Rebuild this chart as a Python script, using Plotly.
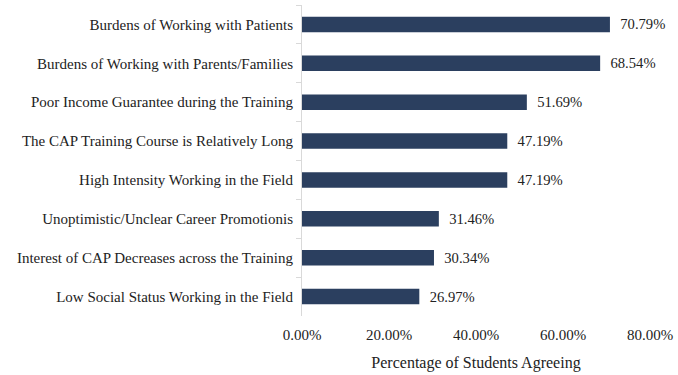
import plotly.graph_objects as go

categories = [
    "Burdens of Working with Patients",
    "Burdens of Working with Parents/Families",
    "Poor Income Guarantee during the Training",
    "The CAP Training Course is Relatively Long",
    "High Intensity Working in the Field",
    "Unoptimistic/Unclear Career Promotionis",
    "Interest of CAP Decreases across the Training",
    "Low Social Status Working in the Field",
]
values = [70.79, 68.54, 51.69, 47.19, 47.19, 31.46, 30.34, 26.97]
x_ticks = [0, 20, 40, 60, 80]

FONT = "Liberation Serif, Times New Roman, serif"

fig = go.Figure(go.Bar(
    y=categories,
    x=values,
    orientation="h",
    marker=dict(color="#2B3F5F", line=dict(width=0)),
    text=[f"  {v:.2f}%" for v in values],
    textposition="outside",
    textfont=dict(family=FONT, size=16, color="#222"),
    cliponaxis=False,
    width=0.4,
))

fig.update_layout(
    width=678, height=375,
    margin=dict(l=302, r=28, t=5, b=59),
    paper_bgcolor="white", plot_bgcolor="white",
    font=dict(family=FONT, size=15, color="#222"),
    showlegend=False,
    xaxis=dict(
        range=[0, 80], tickvals=x_ticks,
        ticktext=[f"{t:.2f}%" for t in x_ticks],
        showgrid=False, zeroline=False, showline=False, ticks="",
        ticklabelstandoff=8,
        tickfont=dict(family=FONT, size=15),
        title=dict(text="Percentage of Students Agreeing", standoff=14,
                   font=dict(family=FONT, size=16)),
    ),
    yaxis=dict(
        autorange="reversed", showgrid=False, zeroline=False,
        showline=True, linecolor="#d9d9d9", linewidth=1,
        ticks="outside", tickson="boundaries", ticklen=5, tickcolor="#d9d9d9",
        ticklabelstandoff=5,
        tickfont=dict(family=FONT, size=15),
    ),
)

fig.write_html("out.html")
